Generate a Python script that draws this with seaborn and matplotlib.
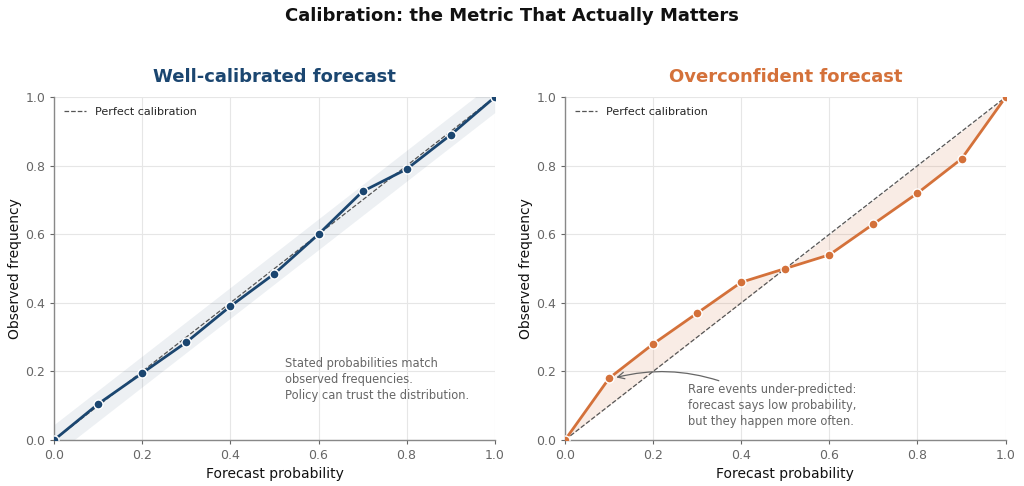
import numpy as np
import pandas as pd
import seaborn as sns
import matplotlib
matplotlib.use('Agg')
import matplotlib.pyplot as plt

# forecast bins and observed frequencies
forecast_prob = [0.0, 0.1, 0.2, 0.3, 0.4, 0.5, 0.6, 0.7, 0.8, 0.9, 1.0]
observed_good = [0.0, 0.105, 0.195, 0.285, 0.39, 0.485, 0.60, 0.725, 0.79, 0.89, 1.0]
observed_over = [0.0, 0.18, 0.28, 0.37, 0.46, 0.50, 0.54, 0.63, 0.72, 0.82, 1.0]
band_width = 0.045

navy = "#1b4670"
orange = "#d4713a"

sns.set_theme(style="whitegrid")
plt.rcParams['font.family'] = ['DejaVu Sans']

df_good = pd.DataFrame({"forecast": forecast_prob, "observed": observed_good})
df_over = pd.DataFrame({"forecast": forecast_prob, "observed": observed_over})

fig, axes = plt.subplots(1, 2, figsize=(10.24, 4.86), dpi=100)
fig.subplots_adjust(left=0.053, right=0.982, top=0.80, bottom=0.095, wspace=0.16)


def style_axis(ax, title, color):
    diag = np.array([0, 1])
    ax.plot(diag, diag, ls="--", lw=0.9, color="#555555", label="Perfect calibration", zorder=2)
    ax.set_xlim(0, 1)
    ax.set_ylim(0, 1)
    ax.set_xticks(np.arange(0, 1.01, 0.2))
    ax.set_yticks(np.arange(0, 1.01, 0.2))
    ax.set_facecolor("white")
    ax.grid(True, color="#e6e6e6", lw=0.8)
    for s in ["top", "right"]:
        ax.spines[s].set_visible(False)
    for s in ["left", "bottom"]:
        ax.spines[s].set_color("#888888")
        ax.spines[s].set_linewidth(1.0)
    ax.tick_params(colors="#666666", labelsize=9, length=3, width=0.8, left=True, bottom=True)
    ax.set_title(title, fontsize=13, fontweight="bold", color=color, pad=11)


# left panel: well calibrated
ax = axes[0]
diag_x = np.array(forecast_prob)
ax.fill_between(diag_x, diag_x - band_width, diag_x + band_width, color=navy, alpha=0.08, lw=0, zorder=1)
style_axis(ax, "Well-calibrated forecast", navy)
sns.lineplot(data=df_good, x="forecast", y="observed", ax=ax, color=navy, lw=2,
             marker="o", markersize=6.5, markeredgecolor="white", markeredgewidth=1, zorder=3)
ax.text(0.523, 0.242, "Stated probabilities match\nobserved frequencies.\nPolicy can trust the distribution.",
        fontsize=8.3, color="#666666", va="top", ha="left", linespacing=1.3)
ax.legend(loc="upper left", frameon=False, fontsize=8)
ax.set_xlabel("Forecast probability", fontsize=10, color="#111111")
ax.set_ylabel("Observed frequency", fontsize=10, color="#111111", labelpad=2)

# right panel: overconfident
ax = axes[1]
ax.fill_between(forecast_prob, forecast_prob, observed_over, color=orange, alpha=0.13, lw=0, zorder=1)
style_axis(ax, "Overconfident forecast", orange)
sns.lineplot(data=df_over, x="forecast", y="observed", ax=ax, color=orange, lw=2,
             marker="o", markersize=6.5, markeredgecolor="white", markeredgewidth=1, zorder=3)
ax.annotate("", xy=(0.11, 0.18), xytext=(0.355, 0.17),
            arrowprops=dict(arrowstyle="->", color="#666666", lw=0.9,
                            connectionstyle="arc3,rad=0.15"))
ax.text(0.28, 0.165, "Rare events under-predicted:\nforecast says low probability,\nbut they happen more often.",
        fontsize=8.3, color="#666666", va="top", ha="left", linespacing=1.3)
ax.legend(loc="upper left", frameon=False, fontsize=8)
ax.set_xlabel("Forecast probability", fontsize=10, color="#111111")
ax.set_ylabel("Observed frequency", fontsize=10, color="#111111", labelpad=2)

fig.suptitle("Calibration: the Metric That Actually Matters", fontsize=13, fontweight="bold",
             color="#111111", y=0.985)

plt.savefig("out.png", dpi=100)
